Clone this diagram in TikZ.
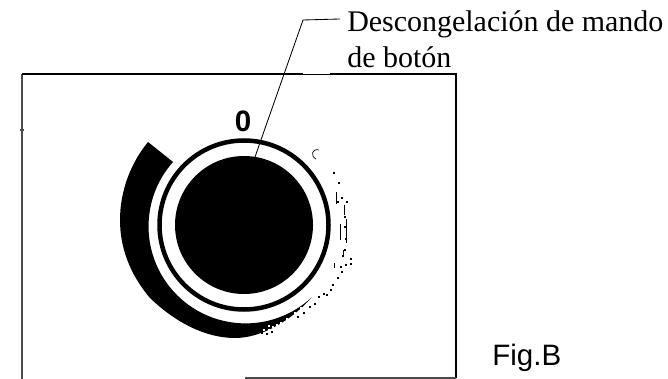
\documentclass[tikz,border=0pt]{standalone}
\usepackage{fontspec}
\usepackage{xcolor}
\setmainfont{Liberation Serif}
\setsansfont{Liberation Sans}
\tikzset{panelline/.style ={line width=1.5pt,black}}
\tikzset{panelthin/.style ={line width=1.2pt,black!70}}
\tikzset{labeltext/.style ={anchor=base west,inner sep=0pt,font=\fontsize{21.3}{24}\selectfont}}
\tikzset{marktext/.style ={inner sep=0pt,font=\sffamily\fontsize{21}{24}\selectfont}}
\begin{document}
\begin{tikzpicture}[x=0.025cm,y=-0.025cm]
{
\useasboundingbox (0,0) rectangle (668,379);
\coordinate (knob) at (244,225);
%panel
\draw[panelthin] (22,74) -- (22,379);
\draw[panelthin] (20,130) -- (24,130);
\draw[panelline] (22,74) -- (303,74);
\draw[line width=0.6pt] (303,74) -- (330,74);
\draw[panelline] (330,74) -- (456,74) -- (456,378);
\draw[panelthin] (245,378) -- (456,378);
%knob
\fill (knob) circle [radius=69];
\draw[line width=3.2pt] (knob) circle [radius=84.5];
%scale band
\fill (173,162) arc [start angle=221.6,end angle=47,radius=97]
 .. controls (292,320) and (262,338) .. (235,338)
 .. controls (205,338) and (175,322) .. (150,298)
 .. controls (128,272) and (120,245) .. (120,220)
 .. controls (120,192) and (130,164) .. (148,142) -- cycle;
\foreach \px/\py in {263/329,268/329,272/326,268/325,276/324,280/322,284/323,288/320,292/316,
 296/314,300/311,304/307,308/303,306/303,300/307,294/312,286/318,278/326,272/329,311/299}
 {\fill[white] (\px,\py) rectangle ++(1.8,1.8);}
\foreach \px/\py in {261/332,266/333,271/331,297/316,303/312,309/306,314/303,318/296,323/293,
 326/294,330/289,332/284,337/277,341/271,345/264,350/263,340/266,
 342/255,350/258,344/249,345/238,344/226,333/172,338/182,341/197,344/216,346/201,337/201}
 {\fill (\px,\py) rectangle ++(1.8,1.8);}
\foreach \px/\py/\qy in {336/192/204,344/205/215,346/219/243,340/224/240,343/250/256,334/263/268}
 {\fill (\px,\py) rectangle (\px+1.4,\qy);}
\draw[line width=0.5pt] (319,150) .. controls (312,148) and (310,156) .. (316,159);
%leader
\coordinate (leaderstart) at (340,19);
\coordinate (leaderbend) at (303,20);
\coordinate (leadertip) at (255,157);
\draw[line width=0.6pt] (leaderstart) -- (leaderbend) -- (leadertip);
\node[labeltext] (labelone) at (347,32) {Descongelación de mando};
\node[labeltext] (labeltwo) at (347,68) {de botón};
\node[marktext] (zero) at (243,121) {\bfseries 0};
\node[marktext,anchor=base west] (figname) at (492,365) {Fig.B};
}
\end{tikzpicture}
\end{document}
